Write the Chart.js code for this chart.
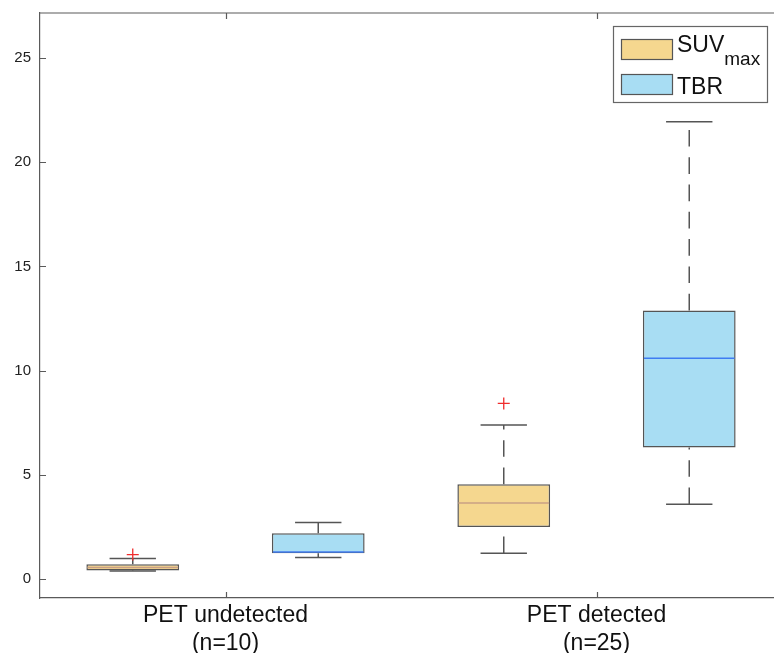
<!DOCTYPE html>
<html>
<head>
<meta charset="utf-8">
<title>SUVmax / TBR boxplot</title>
<script src="https://cdn.jsdelivr.net/npm/chart.js@4.4.0/dist/chart.umd.min.js"></script>
<style>
  html, body { margin: 0; padding: 0; background: #fff; overflow: hidden; }
  #wrap { position: relative; width: 784px; height: 653px; }
</style>
</head>
<body>
<div id="wrap"><canvas id="boxChart"></canvas></div>
<script>
// Data
const categories = [["PET undetected", "(n=10)"], ["PET detected", "(n=25)"]];
const yTicks = [0, 5, 10, 15, 20, 25];

const suvMin = [0.40, 1.25];
const suvQ1 = [0.42, 2.51];
const suvMedian = [0.56, 3.66];
const suvQ3 = [0.72, 4.56];
const suvMax = [0.99, 7.40];
const suvOutliers = [[1.18], [8.43]];

const tbrMin = [1.04, 3.60];
const tbrQ1 = [1.24, 6.32];
const tbrMedian = [1.31, 10.59];
const tbrQ3 = [2.20, 12.89];
const tbrMax = [2.72, 21.93];
const tbrOutliers = [[], []];

const stats = [
  { min: suvMin, q1: suvQ1, med: suvMedian, q3: suvQ3, max: suvMax, out: suvOutliers, medColor: "#c9a085" },
  { min: tbrMin, q1: tbrQ1, med: tbrMedian, q3: tbrQ3, max: tbrMax, out: tbrOutliers, medColor: "#3f7cf2" },
];

const axisColor = "#5a5a5a";
const lineColor = "#555555";
Chart.defaults.font.family = "'Liberation Sans', Arial, Helvetica, sans-serif";

// whiskers, caps, medians, outliers, frame, ticks and legend
const boxExtras = {
  id: "boxExtras",
  afterDatasetsDraw(chart) {
    const ctx = chart.ctx;
    const y = chart.scales.y;
    stats.forEach((s, d) => {
      const meta = chart.getDatasetMeta(d);
      meta.data.forEach((bar, i) => {
        const x = bar.x;
        const half = bar.width / 2;
        const capHalf = bar.width / 4;
        ctx.save();
        ctx.strokeStyle = lineColor;
        ctx.lineWidth = 1.5;
        // whiskers (dashed, drawn from low value to high value)
        ctx.setLineDash([16.7, 10.6]);
        ctx.beginPath();
        ctx.moveTo(x, y.getPixelForValue(s.min[i]));
        ctx.lineTo(x, y.getPixelForValue(s.q1[i]));
        ctx.stroke();
        ctx.beginPath();
        ctx.moveTo(x, y.getPixelForValue(s.q3[i]));
        ctx.lineTo(x, y.getPixelForValue(s.max[i]));
        ctx.stroke();
        ctx.setLineDash([]);
        // caps
        [s.min[i], s.max[i]].forEach(v => {
          const py = y.getPixelForValue(v);
          ctx.beginPath();
          ctx.moveTo(x - capHalf, py);
          ctx.lineTo(x + capHalf, py);
          ctx.stroke();
        });
        // median
        const my = y.getPixelForValue(s.med[i]);
        ctx.strokeStyle = s.medColor;
        ctx.lineWidth = 1.5;
        ctx.beginPath();
        ctx.moveTo(x - half + 1, my);
        ctx.lineTo(x + half - 1, my);
        ctx.stroke();
        // outliers
        ctx.strokeStyle = "#f02c2c";
        ctx.lineWidth = 1.3;
        s.out[i].forEach(v => {
          const py = y.getPixelForValue(v);
          ctx.beginPath();
          ctx.moveTo(x - 6, py);
          ctx.lineTo(x + 6, py);
          ctx.moveTo(x, py - 6);
          ctx.lineTo(x, py + 6);
          ctx.stroke();
        });
        ctx.restore();
      });
    });
  },
  afterDraw(chart) {
    const ctx = chart.ctx;
    const a = chart.chartArea;
    const xs = chart.scales.x;
    const ys = chart.scales.y;
    ctx.save();
    ctx.strokeStyle = axisColor;
    ctx.lineWidth = 1.2;
    // top and right frame
    ctx.beginPath();
    ctx.moveTo(a.left, a.top);
    ctx.lineTo(a.right, a.top);
    ctx.lineTo(a.right, a.bottom);
    ctx.stroke();
    // inward ticks
    ctx.beginPath();
    ys.ticks.forEach(t => {
      const py = Math.round(ys.getPixelForValue(t.value)) + 0.5;
      ctx.moveTo(a.left, py);
      ctx.lineTo(a.left + 6, py);
      ctx.moveTo(a.right, py);
      ctx.lineTo(a.right - 6, py);
    });
    categories.forEach((c, i) => {
      const px = Math.round(xs.getPixelForValue(i)) + 0.5;
      ctx.moveTo(px, a.bottom);
      ctx.lineTo(px, a.bottom - 6);
      ctx.moveTo(px, a.top);
      ctx.lineTo(px, a.top + 6);
    });
    ctx.stroke();

    // legend
    const lx = 613, ly = 26, lw = 154, lh = 76;
    ctx.fillStyle = "#fff";
    ctx.fillRect(lx, ly, lw, lh);
    ctx.strokeStyle = "#666";
    ctx.lineWidth = 1.2;
    ctx.strokeRect(lx + 0.5, ly + 0.5, lw, lh);
    const ds = chart.data.datasets;
    const rows = [39, 74];
    ds.forEach((set, i) => {
      ctx.fillStyle = set.backgroundColor;
      ctx.fillRect(621, rows[i], 51, 20);
      ctx.strokeStyle = lineColor;
      ctx.lineWidth = 1.2;
      ctx.strokeRect(621.5, rows[i] + 0.5, 51, 20);
    });
    ctx.fillStyle = "#111";
    ctx.textBaseline = "alphabetic";
    ctx.textAlign = "left";
    ctx.font = "23px 'Liberation Sans', Arial, sans-serif";
    ctx.fillText("SUV", 677, 52);
    const w = ctx.measureText("SUV").width;
    ctx.font = "19px 'Liberation Sans', Arial, sans-serif";
    ctx.fillText("max", 677 + w, 65);
    ctx.font = "23px 'Liberation Sans', Arial, sans-serif";
    ctx.fillText(ds[1].label, 677, 94);
    ctx.restore();
  }
};

const ctx = document.getElementById("boxChart");
const boxChart = new Chart(ctx.getContext("2d"), {
  type: "bar",
  data: {
    labels: categories,
    datasets: [
      {
        label: "SUVmax",
        data: categories.map((c, i) => [suvQ1[i], suvQ3[i]]),
        backgroundColor: "#f5d78f",
        borderColor: lineColor,
        borderWidth: 1.5,
        borderSkipped: false,
      },
      {
        label: "TBR",
        data: categories.map((c, i) => [tbrQ1[i], tbrQ3[i]]),
        backgroundColor: "#a8ddf3",
        borderColor: lineColor,
        borderWidth: 1.5,
        borderSkipped: false,
      },
    ],
  },
  options: {
    responsive: true,
    maintainAspectRatio: false,
    animation: false,
    categoryPercentage: 1.0,
    barPercentage: 0.5,
    layout: { padding: { top: 13, right: 2, left: 0, bottom: 0 } },
    plugins: {
      legend: { display: false },
      tooltip: { enabled: false },
    },
    scales: {
      x: {
        grid: { display: false, drawTicks: false },
        border: { display: true, color: axisColor, width: 1.2 },
        ticks: {
          color: "#111",
          font: { size: 23 },
          padding: 4,
          maxRotation: 0,
          autoSkip: false,
        },
        afterFit(scale) {
          scale.height = 55;
          scale.paddingLeft = 0;
          scale.paddingRight = 0;
        },
      },
      y: {
        min: -0.9,
        max: 27.15,
        grid: { display: false, drawTicks: false },
        border: { display: true, color: axisColor, width: 1.2 },
        ticks: { color: "#222", font: { size: 15 }, padding: 9 },
        afterBuildTicks(scale) { scale.ticks = yTicks.map(v => ({ value: v })); },
        afterFit(scale) {
          scale.width = 40;
          scale.paddingTop = 0;
          scale.paddingBottom = 0;
        },
      },
    },
  },
  plugins: [boxExtras],
});
</script>
</body>
</html>
